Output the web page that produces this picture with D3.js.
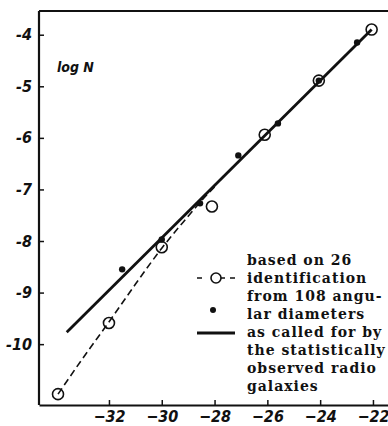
<!DOCTYPE html>
<html>
<head>
<meta charset="utf-8">
<script src="https://cdn.jsdelivr.net/npm/d3@7"></script>
<style>
  body { margin: 0; background: #fff; }
  svg { display: block; }
  .axis path, .axis line { stroke: #111; }
  .axis text { font-family: "DejaVu Sans Condensed", "DejaVu Sans", sans-serif; font-style: italic; font-weight: bold; font-size: 16px; fill: #111; }
  .legend text { font-family: "DejaVu Serif", serif; font-weight: bold; font-size: 14px; letter-spacing: 1px; fill: #111; }
</style>
</head>
<body>
<svg id="chart"></svg>
<script>
// values
let xTicks = [-32, -30, -28, -26, -24, -22];
let yTicks = [-4, -5, -6, -7, -8, -9, -10];

// open circles: based on 26 identifications
let openX = [-33.93, -32, -30, -28.1, -26.1, -24.05, -22.05];
let openY = [-10.97, -9.59, -8.12, -7.33, -5.94, -4.89, -3.9];

// filled dots: from 108 angular diameters
let dotX = [-31.5, -30.0, -28.55, -27.1, -25.6, -24.05, -22.6];
let dotY = [-8.55, -7.97, -7.27, -6.34, -5.72, -4.89, -4.15];

// solid line: as called for by the statistically observed radio galaxies
let solidX = [-33.6, -22.05];
let solidY = [-9.77, -3.9];

// dashed curve through the identifications
let dashX = [-33.93, -33, -32, -31, -30, -29, -28.5, -28];
let dashY = [-10.97, -10.28, -9.57, -8.84, -8.14, -7.52, -7.22, -6.95];

let legendLines = ["based on 26", "identification", "from 108 angu-", "lar diameters",
  "as called for by", "the statistically", "observed radio", "galaxies"];

let config = { svg: {}, plot: {} };
config.svg.width = 388;
config.svg.height = 426;
config.plot.left = 39;
config.plot.right = 388;
config.plot.top = 11;
config.plot.bottom = 405;

let svg = d3.select("svg#chart")
  .attr("width", config.svg.width)
  .attr("height", config.svg.height);

let scale = {};
scale.x = d3.scaleLinear().domain([-34.65, -21.43]).range([config.plot.left, config.plot.right]);
scale.y = d3.scaleLinear().domain([-11.18, -3.54]).range([config.plot.bottom, config.plot.top]);

// frame: top edge
svg.append("line")
  .attr("x1", config.plot.left).attr("x2", config.plot.right)
  .attr("y1", config.plot.top).attr("y2", config.plot.top)
  .attr("stroke", "#111").attr("stroke-width", 2);

let axis = {};
axis.x = d3.axisBottom(scale.x).tickValues(xTicks).tickSize(-5).tickSizeOuter(0).tickPadding(6)
  .tickFormat(d => "\u2212" + Math.abs(d));
axis.y = d3.axisLeft(scale.y).tickValues(yTicks).tickSize(-5).tickSizeOuter(0).tickPadding(7)
  .tickFormat(d => "-" + Math.abs(d));

let gx = svg.append("g").attr("class", "axis")
  .attr("transform", translate(0, config.plot.bottom))
  .call(axis.x);
gx.select(".domain").attr("stroke-width", 2);
gx.selectAll(".tick line").attr("stroke-width", 1.5);

let gy = svg.append("g").attr("class", "axis")
  .attr("transform", translate(config.plot.left, 0))
  .call(axis.y);
gy.select(".domain").attr("d", "M0," + config.plot.top + "V" + config.plot.bottom).attr("stroke-width", 2.2);
gy.selectAll(".tick line").attr("stroke-width", 1.5);

svg.append("text")
  .text("log N")
  .attr("x", 57).attr("y", 72)
  .attr("font-family", "DejaVu Sans Condensed, DejaVu Sans, sans-serif")
  .attr("font-style", "italic")
  .attr("font-weight", "bold")
  .attr("font-size", "14px")
  .attr("fill", "#111");

let line = d3.line().x(d => scale.x(d[0])).y(d => scale.y(d[1]));

svg.append("path")
  .attr("d", line.curve(d3.curveMonotoneX)(d3.zip(dashX, dashY)))
  .attr("fill", "none").attr("stroke", "#111")
  .attr("stroke-width", 1.6).attr("stroke-dasharray", "7,4");

svg.append("path")
  .attr("d", d3.line().x(d => scale.x(d[0])).y(d => scale.y(d[1]))(d3.zip(solidX, solidY)))
  .attr("fill", "none").attr("stroke", "#111").attr("stroke-width", 2.8);

svg.append("g").selectAll("circle")
  .data(d3.zip(dotX, dotY))
  .enter().append("circle")
  .attr("cx", d => scale.x(d[0])).attr("cy", d => scale.y(d[1]))
  .attr("r", 3.2).attr("fill", "#111");

svg.append("g").selectAll("circle")
  .data(d3.zip(openX, openY))
  .enter().append("circle")
  .attr("cx", d => scale.x(d[0])).attr("cy", d => scale.y(d[1]))
  .attr("r", 5.5).attr("fill", "none").attr("stroke", "#111").attr("stroke-width", 1.6);

// legend
let legend = svg.append("g").attr("class", "legend");

legend.selectAll("text")
  .data(legendLines)
  .enter().append("text")
  .attr("x", 247)
  .attr("y", (d, i) => 265 + i * 18)
  .text(d => d);

legend.append("line")
  .attr("x1", 197).attr("x2", 235).attr("y1", 278).attr("y2", 278)
  .attr("stroke", "#111").attr("stroke-width", 1.6).attr("stroke-dasharray", "5,18,5");
legend.append("circle")
  .attr("cx", 216).attr("cy", 278).attr("r", 5)
  .attr("fill", "#fff").attr("stroke", "#111").attr("stroke-width", 1.6);
legend.append("circle")
  .attr("cx", 213).attr("cy", 310).attr("r", 3).attr("fill", "#111");
legend.append("line")
  .attr("x1", 197).attr("x2", 235).attr("y1", 333).attr("y2", 333)
  .attr("stroke", "#111").attr("stroke-width", 2.8);

function translate(x, y) {
  return "translate(" + x + "," + y + ")";
}
</script>
</body>
</html>
